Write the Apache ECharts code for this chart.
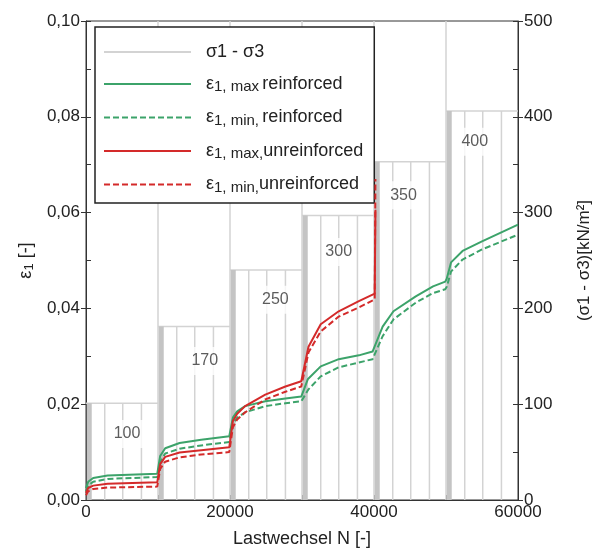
<!DOCTYPE html>
<html>
<head>
<meta charset="utf-8">
<script src="https://cdn.jsdelivr.net/npm/echarts@6/dist/echarts.min.js"></script>
<style>
  html, body { margin: 0; padding: 0; background: #fff; }
  #chart { width: 601px; height: 553px; }
</style>
</head>
<body>
<div id="chart"></div>
<script>
// load stages (cycles, kN/m²)
const stageStart = [0, 10000, 20000, 30000, 40000, 50000];
const stageEnd = [10000, 20000, 30000, 40000, 50000, 60000];
const stageLevel = [101, 181, 240, 297, 353, 406];
const stageText = ['100', '170', '250', '300', '350', '400'];
const stageTextN = [5700, 16500, 26300, 35100, 44100, 54000];
const stageTextS = [69, 145, 209, 259, 318, 374];
// thin cycle lines inside every stage (offset from stage start)
const cycleOffsets = [2600, 5100, 7700];
const spikeTop = 500;

// strains
const epsMaxReinf = [
  [0, 0.0025], [300, 0.0038], [1000, 0.0046], [3000, 0.0051], [9900, 0.0055],
  [10000, 0.0056], [10300, 0.0092], [11000, 0.0108], [13000, 0.0119], [16000, 0.0126], [19900, 0.0133],
  [20000, 0.0135], [20400, 0.0172], [21000, 0.0185], [22100, 0.0196], [24900, 0.0206], [27700, 0.0212], [29900, 0.0216],
  [30000, 0.0218], [30800, 0.0252], [32600, 0.0279], [35100, 0.0294], [37900, 0.0302], [39800, 0.031],
  [40000, 0.0312], [41200, 0.0362], [42700, 0.0394], [45800, 0.0425], [48200, 0.0446], [49900, 0.0456],
  [50100, 0.0462], [50700, 0.0496], [52300, 0.052], [55000, 0.054], [60000, 0.0575]
];
const epsMinReinf = [
  [0, 0.0018], [300, 0.003], [1000, 0.0038], [3000, 0.0044], [9900, 0.0048],
  [10000, 0.0049], [10300, 0.008], [11000, 0.0097], [13000, 0.0107], [16000, 0.0114], [19900, 0.0121],
  [20000, 0.0123], [20400, 0.0158], [21000, 0.0172], [22100, 0.0183], [24900, 0.0196], [27700, 0.0202], [29900, 0.0206],
  [30000, 0.0208], [30900, 0.0231], [32600, 0.0258], [35100, 0.0277], [37900, 0.0287], [39800, 0.0294],
  [40000, 0.0296], [41200, 0.0342], [42700, 0.0377], [45800, 0.0412], [48200, 0.0432], [49900, 0.044],
  [50100, 0.0445], [50700, 0.0477], [52300, 0.0502], [55000, 0.0523], [60000, 0.0554]
];
const epsMaxUnreinf = [
  [0, 0.0015], [300, 0.0025], [1000, 0.003], [3000, 0.0034], [9900, 0.0037],
  [10000, 0.0038], [10300, 0.0075], [11000, 0.009], [13000, 0.0099], [16000, 0.0104], [19900, 0.011],
  [20000, 0.0112], [20400, 0.0165], [21000, 0.018], [22100, 0.0196], [24900, 0.022], [27700, 0.0237], [29900, 0.0248],
  [30000, 0.025], [30900, 0.032], [32600, 0.0367], [35100, 0.0394], [37900, 0.0415], [40100, 0.0431], [40200, 0.0606]
];
const epsMinUnreinf = [
  [0, 0.001], [300, 0.0018], [1000, 0.0023], [3000, 0.0026], [9900, 0.0028],
  [10000, 0.0029], [10300, 0.0065], [11000, 0.008], [13000, 0.0089], [16000, 0.0095], [19900, 0.010],
  [20000, 0.0102], [20400, 0.0152], [21000, 0.0168], [22100, 0.0183], [24900, 0.021], [27700, 0.0226], [29900, 0.0237],
  [30000, 0.0239], [30900, 0.0308], [32600, 0.0352], [35100, 0.0383], [37900, 0.0402], [40100, 0.0419], [40200, 0.067]
];

const xTicks = [0, 20000, 40000, 60000];

// grey stress lines: plateaus, thin cycle lines, spikes
let stressThin = [];
let stressBar = [];
stageStart.forEach((s, i) => {
  const L = stageLevel[i];
  if (i > 0) stressThin.push([s, 0], [s, spikeTop], [s, '-']);
  stressThin.push([s, L], [stageEnd[i], L], [s, '-']);
  cycleOffsets.forEach(o => {
    stressThin.push([s + o, 0], [s + o, L], [s + o, '-']);
  });
  stressBar.push([s + 450, 0], [s + 450, L], [s + 450, '-']);
});

const green = '#3ca36a';
const red = '#d42a2a';
const font = 'Liberation Sans, Arial, sans-serif';

const chart = echarts.init(document.getElementById('chart'));

const legendText = {
  'σ1 - σ3': '{n|σ1 - σ3}',
  'ε1, max reinforced': '{n|ε}{s|1, max} {n|reinforced}',
  'ε1, min, reinforced': '{n|ε}{s|1, min,} {n|reinforced}',
  'ε1, max,unreinforced': '{n|ε}{s|1, max,}{n|unreinforced}',
  'ε1, min,unreinforced': '{n|ε}{s|1, min,}{n|unreinforced}'
};

chart.setOption({
  animation: false,
  backgroundColor: '#fff',
  grid: {
    left: 86, right: 82, top: 21, bottom: 52,
    show: true, borderColor: '#333', borderWidth: 1
  },
  legend: {
    orient: 'vertical',
    left: 95, top: 27,
    data: Object.keys(legendText),
    itemWidth: 87, itemHeight: 14, itemGap: 14,
    padding: [16, 11, 8, 8],
    borderColor: '#222', borderWidth: 1.5,
    backgroundColor: '#fff',
    itemStyle: { opacity: 0 },
    formatter: name => legendText[name],
    textStyle: {
      fontFamily: font, color: '#222',
      padding: [0, 0, 0, 10],
      rich: {
        n: { fontSize: 18, fontFamily: font, color: '#222' },
        s: { fontSize: 15, fontFamily: font, color: '#222', padding: [6, 0, 0, 0] }
      }
    }
  },
  xAxis: {
    type: 'value', min: 0, max: 60000, interval: 10000,
    name: 'Lastwechsel N [-]', nameLocation: 'middle', nameGap: 30,
    nameTextStyle: { fontSize: 18, fontFamily: font, color: '#222' },
    axisLine: { lineStyle: { color: '#333' } },
    axisTick: { inside: true, length: 5, lineStyle: { color: '#333' } },
    axisLabel: {
      fontSize: 17, fontFamily: font, color: '#222', margin: 4,
      formatter: v => xTicks.indexOf(v) >= 0 ? String(v) : ''
    },
    splitLine: { show: false }
  },
  yAxis: [
    {
      type: 'value', min: 0, max: 0.1, interval: 0.02, position: 'left',
      name: '{a|ε}{b|1} [-]', nameLocation: 'middle', nameGap: 50,
      nameTextStyle: {
        fontSize: 18, fontFamily: font, color: '#222',
        rich: { a: { fontSize: 18, fontFamily: font }, b: { fontSize: 13, fontFamily: font, padding: [6, 0, 0, 0] } }
      },
      axisLine: { show: true, lineStyle: { color: '#333' } },
      axisTick: { show: true, length: 5, lineStyle: { color: '#333' } },
      axisLabel: {
        fontSize: 17, fontFamily: font, color: '#222', margin: 6,
        formatter: v => v.toFixed(2).replace('.', ',')
      },
      splitLine: { show: false }
    },
    {
      type: 'value', min: 0, max: 500, interval: 100, position: 'right',
      name: '(σ1 - σ3)[kN/m²]', nameLocation: 'middle', nameGap: 58,
      nameTextStyle: { fontSize: 17, fontFamily: font, color: '#222' },
      axisLine: { show: true, lineStyle: { color: '#333' } },
      axisTick: { show: true, length: 5, lineStyle: { color: '#333' } },
      axisLabel: { fontSize: 17, fontFamily: font, color: '#222', margin: 6 },
      splitLine: { show: false }
    },
    {
      type: 'value', min: 0, max: 0.1, interval: 0.01, position: 'left',
      axisLine: { show: false },
      axisTick: { show: true, inside: true, length: 5, lineStyle: { color: '#333' } },
      axisLabel: { show: false },
      splitLine: { show: false }
    },
    {
      type: 'value', min: 0, max: 500, interval: 50, position: 'right',
      axisLine: { show: false },
      axisTick: { show: true, inside: true, length: 5, lineStyle: { color: '#333' } },
      axisLabel: { show: false },
      splitLine: { show: false }
    }
  ],
  series: [
    {
      name: 'σ1 - σ3', type: 'line', yAxisIndex: 1, data: stressThin,
      symbol: 'none', connectNulls: false, z: 1,
      lineStyle: { color: '#d3d3d3', width: 1.5 }, itemStyle: { color: '#d3d3d3' }
    },
    {
      name: 'σ1 - σ3', type: 'line', yAxisIndex: 1, data: stressBar,
      symbol: 'none', connectNulls: false, z: 1,
      lineStyle: { color: '#c4c4c4', width: 5 }, itemStyle: { color: '#c4c4c4' }
    },
    {
      type: 'scatter', yAxisIndex: 1, symbolSize: 0, z: 2,
      data: stageText.map((t, i) => ({ name: t, value: [stageTextN[i], stageTextS[i]] })),
      label: {
        show: true, position: 'inside', formatter: p => p.name,
        fontSize: 16, fontFamily: font, color: '#333',
        backgroundColor: '#fff', padding: [6, 3]
      }
    },
    {
      name: 'ε1, max reinforced', type: 'line', data: epsMaxReinf, symbol: 'none', z: 3,
      lineStyle: { color: green, width: 2 }, itemStyle: { color: green }
    },
    {
      name: 'ε1, min, reinforced', type: 'line', data: epsMinReinf, symbol: 'none', z: 3,
      lineStyle: { color: green, width: 2, type: [6, 3] }, itemStyle: { color: green }
    },
    {
      name: 'ε1, max,unreinforced', type: 'line', data: epsMaxUnreinf, symbol: 'none', z: 4,
      lineStyle: { color: red, width: 2 }, itemStyle: { color: red }
    },
    {
      name: 'ε1, min,unreinforced', type: 'line', data: epsMinUnreinf, symbol: 'none', z: 4,
      lineStyle: { color: red, width: 2, type: [6, 3] }, itemStyle: { color: red }
    }
  ]
});
</script>
</body>
</html>
